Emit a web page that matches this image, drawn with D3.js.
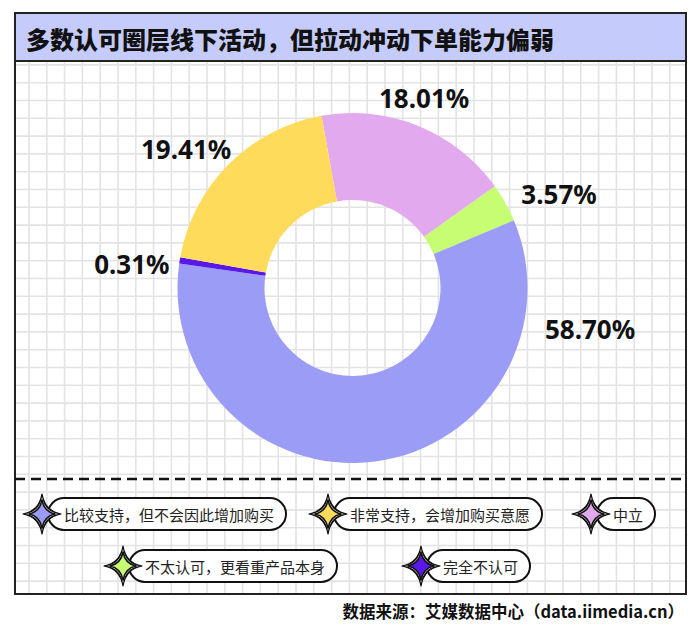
<!DOCTYPE html>
<html><head><meta charset="utf-8">
<script src="https://cdn.jsdelivr.net/npm/d3@7"></script>
<style>html,body{margin:0;padding:0;background:#fff;}svg{display:block;font-family:"Noto Sans CJK SC","Noto Sans",sans-serif;}</style>
</head><body><svg id="c" width="700" height="634"></svg>
<script>
const title = "多数认可圈层线下活动，但拉动冲动下单能力偏弱";
const source = "数据来源：艾媒数据中心（data.iimedia.cn）";
const categories = ["比较支持，但不会因此增加购买","非常支持，会增加购买意愿","中立","不太认可，更看重产品本身","完全不认可"];
const values = [58.70, 19.41, 18.01, 3.57, 0.31];
const labels = ["58.70%","19.41%","18.01%","3.57%","0.31%"];
const colors = ["#9b9cf6","#ffdb5c","#e2a9ee","#c6fd72","#5a18e8"];
const drawOrder = [2,3,0,4,1];

const svg = d3.select("#c");
const fx0=15, fx1=686, fy0=13, fy1=594, titleH=48;

// grid
const grid = svg.append("g");
const step=17.8;
const gx = d3.range(11.2, fx1, step).filter(x=>x>fx0);
const gy = d3.range(64.9, fy1, step).filter(y=>y>fy0+titleH);
grid.selectAll("line.v").data(gx).join("line").attr("x1",d=>d).attr("x2",d=>d).attr("y1",fy0+titleH).attr("y2",fy1).attr("stroke","#e3e3e3").attr("stroke-width",1.6);
grid.selectAll("line.h").data(gy).join("line").attr("x1",fx0).attr("x2",fx1).attr("y1",d=>d).attr("y2",d=>d).attr("stroke","#e3e3e3").attr("stroke-width",1.6);

// title band
svg.append("rect").attr("x",fx0).attr("y",fy0).attr("width",fx1-fx0).attr("height",titleH).attr("fill","#c5cbfb");
svg.append("line").attr("x1",fx0).attr("x2",fx1).attr("y1",fy0+titleH).attr("y2",fy0+titleH).attr("stroke","#222").attr("stroke-width",2);
svg.append("text").attr("x",26).attr("y",fy0+titleH/2+1).attr("dominant-baseline","central")
  .attr("font-size",24).attr("font-weight",900).attr("fill","#111").text(title);

// frame
svg.append("rect").attr("x",fx0).attr("y",fy0).attr("width",fx1-fx0).attr("height",fy1-fy0).attr("fill","none").attr("stroke","#222").attr("stroke-width",2);

// donut (with a minimum visible slice angle, as the source chart renders)
const cx=352.5, cy=288, R=175, r0=88;
const startA = -10.2*Math.PI/180;
const minAngle = 2.1*Math.PI/180;
const ordered = drawOrder.map(i=>({i, v:values[i]}));
const total = d3.sum(values);
const small = ordered.filter(d=>d.v/total*2*Math.PI < minAngle);
const bigSum = d3.sum(ordered.filter(d=>!small.includes(d)), d=>d.v);
const rest = 2*Math.PI - small.length*minAngle;
let a = startA;
const arcs = ordered.map(d=>{
  const span = small.includes(d) ? minAngle : d.v/bigSum*rest;
  const o = {data:d, startAngle:a, endAngle:a+span};
  a += span; return o;
});
const arc = d3.arc().innerRadius(r0).outerRadius(R);
const g = svg.append("g").attr("transform",`translate(${cx},${cy})`);
g.selectAll("path").data(arcs).join("path").attr("d",arc).attr("fill",d=>colors[d.data.i]);

// labels (polar placement: angle deg from top clockwise, radius)
const labelPlace = {0:[99.7,241],1:[-50.2,216.6],2:[20.6,203.5],3:[65.5,227],4:[-83.7,222]};
g.selectAll("text").data(arcs).join("text")
  .attr("x",d=>{const p=labelPlace[d.data.i];return p[1]*Math.sin(p[0]*Math.PI/180);})
  .attr("y",d=>{const p=labelPlace[d.data.i];return -p[1]*Math.cos(p[0]*Math.PI/180);})
  .attr("text-anchor","middle").attr("dominant-baseline","central")
  .attr("font-size",26).attr("font-weight",700).attr("fill","#111")
  .attr("font-family","'Noto Sans','Noto Sans CJK SC',sans-serif")
  .text(d=>labels[d.data.i]);

// dashed separator
svg.append("line").attr("x1",fx0).attr("x2",fx1).attr("y1",479).attr("y2",479).attr("stroke","#111").attr("stroke-width",2.5).attr("stroke-dasharray","10,6");

// legend
const legendPos = [[42,514],[328,514],[591,514],[123,566],[421,566]];
function star(w,h,k){return `M0,${-h} Q${k},${-k} ${w},0 Q${k},${k} 0,${h} Q${-k},${k} ${-w},0 Q${-k},${-k} 0,${-h}Z`;}
const lg = svg.append("g");
categories.forEach((c,i)=>{
  const [sx,sy]=legendPos[i];
  const item = lg.append("g").attr("transform",`translate(${sx},${sy})`);
  const t = item.append("text").attr("x",22).attr("y",0).attr("dominant-baseline","central")
    .attr("font-size",15).attr("fill","#222").text(c);
  const tw = t.node().getComputedTextLength();
  item.insert("rect","text").attr("x",6).attr("y",-16).attr("width",tw+28).attr("height",32).attr("rx",16)
    .attr("fill","#fff").attr("stroke","#111").attr("stroke-width",2);
  item.append("path").attr("d",star(19,20,3)).attr("fill","#111").attr("stroke","#111").attr("stroke-width",1.2).attr("stroke-linejoin","round");
  item.append("path").attr("d",star(16,17,2.6)).attr("fill","#fff");
  item.append("path").attr("d",star(13,14,2.2)).attr("fill",colors[i]).attr("stroke","#111").attr("stroke-width",1.6).attr("stroke-linejoin","round");
});

// source
svg.append("text").attr("x",684).attr("y",611).attr("text-anchor","end").attr("dominant-baseline","central")
  .attr("font-size",16.5).attr("font-weight",700).attr("fill","#111").text(source);
</script></body></html>
